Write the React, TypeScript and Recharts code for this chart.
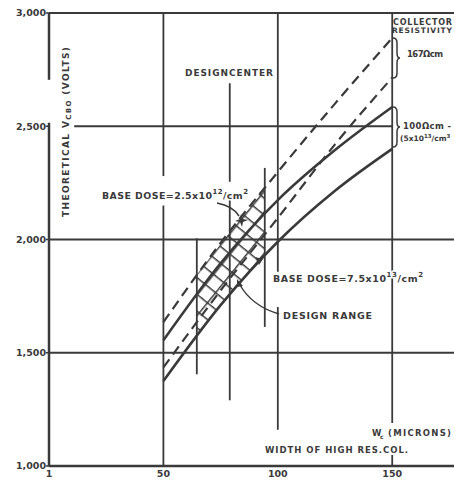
import React from 'react';
import { ComposedChart, Line, Area, XAxis, YAxis, ReferenceLine } from 'recharts';

// Width of high-resistivity collector (microns)
const widthsMicrons = [50, 75, 100, 125, 150];
// Theoretical VCBO (volts)
const upperDashed167 = [1635, 1985, 2298, 2600, 2890];
const lowerDashed167 = [1435, 1775, 2095, 2420, 2715];
const upperSolid100 = [1555, 1895, 2174, 2395, 2585];
const lowerSolid100 = [1375, 1710, 1990, 2215, 2400];

// Hatched design range
const designRangeX = [64.6, 80, 94.3];
const designRangeLow = [1580, 1770, 1925];
const designRangeHigh = [1845, 2045, 2235];

const xTicks = [0, 50, 100, 150];
const xTickLabels = ['1', '50', '100', '150'];
const yTicks = [1000, 1500, 2000, 2500, 3000];
const yTickLabels = ['1,000', '1,500', '2,000', '2,500', '3,000'];

const curveData = widthsMicrons.map((x, i) => ({
  x,
  upperDashed: upperDashed167[i],
  lowerDashed: lowerDashed167[i],
  upperSolid: upperSolid100[i],
  lowerSolid: lowerSolid100[i],
}));

const hatchData = designRangeX.map((x, i) => ({
  x,
  range: [designRangeLow[i], designRangeHigh[i]],
}));

const ink = '#3a3a3a';
const font = '"DejaVu Sans", Verdana, sans-serif';
const tickStyle = { fontSize: 9.5, fontWeight: 700, fill: ink, fontFamily: font };
const grid = { stroke: ink, strokeWidth: 1.8 };
const halo = { stroke: '#fff', strokeWidth: 3, paintOrder: 'stroke' as const, strokeLinejoin: 'round' as const };
const txt = { fill: ink, fontFamily: font, fontWeight: 700 };

export default function App() {
  return (
    <div style={{ position: 'absolute', left: 0, top: 0, width: 454, height: 480, background: '#fff', overflow: 'hidden' }}>
      <svg width={0} height={0} style={{ position: 'absolute' }}>
        <defs>
          <pattern id="hatchGrid" patternUnits="userSpaceOnUse" width="13" height="13" patternTransform="rotate(39)">
            <path d="M0,0.75 H13 M0.75,0 V13" stroke={ink} strokeWidth={1.5} fill="none" />
          </pattern>
        </defs>
      </svg>
      <ComposedChart width={454} height={480} data={curveData} margin={{ top: 13, right: 0, bottom: 0, left: 0 }}>
        <XAxis
          type="number"
          dataKey="x"
          domain={[0, 177]}
          ticks={xTicks}
          interval={0}
          allowDataOverflow
          tickFormatter={(v: number) => xTickLabels[xTicks.indexOf(v)]}
          height={14}
          tickLine={false}
          tickSize={0}
          tickMargin={4}
          axisLine={{ stroke: ink, strokeWidth: 2.5 }}
          tick={tickStyle}
        />
        <YAxis
          type="number"
          domain={[1000, 3000]}
          ticks={yTicks}
          interval={0}
          allowDataOverflow
          tickFormatter={(v: number) => yTickLabels[yTicks.indexOf(v)]}
          width={49}
          axisLine={false}
          tickSize={3}
          tickMargin={0}
          tickLine={{ stroke: ink, strokeWidth: 1.5 }}
          tick={tickStyle}
        />

        {/* frame */}
        <ReferenceLine segment={[{ x: 0, y: 3000 }, { x: 177, y: 3000 }]} stroke={ink} strokeWidth={2.2} />
        <ReferenceLine segment={[{ x: 0, y: 3000 }, { x: 0, y: 2705 }]} stroke={ink} strokeWidth={2.5} />
        <ReferenceLine segment={[{ x: 0, y: 2515 }, { x: 0, y: 1000 }]} stroke={ink} strokeWidth={2.5} />

        {/* horizontal grid */}
        <ReferenceLine segment={[{ x: 0, y: 1500 }, { x: 177, y: 1500 }]} {...grid} />
        <ReferenceLine segment={[{ x: 0, y: 2000 }, { x: 177, y: 2000 }]} {...grid} />
        <ReferenceLine segment={[{ x: 11, y: 2500 }, { x: 150, y: 2500 }]} {...grid} />

        {/* vertical grid */}
        <ReferenceLine segment={[{ x: 50, y: 3000 }, { x: 50, y: 2280 }]} {...grid} />
        <ReferenceLine segment={[{ x: 50, y: 2150 }, { x: 50, y: 1000 }]} {...grid} />
        <ReferenceLine segment={[{ x: 100, y: 3000 }, { x: 100, y: 1858 }]} {...grid} />
        <ReferenceLine segment={[{ x: 100, y: 1702 }, { x: 100, y: 1160 }]} {...grid} />
        <ReferenceLine segment={[{ x: 150, y: 3000 }, { x: 150, y: 1190 }]} {...grid} />
        <ReferenceLine segment={[{ x: 150, y: 1049 }, { x: 150, y: 1000 }]} {...grid} />

        {/* partial design lines */}
        <ReferenceLine segment={[{ x: 64.6, y: 2005 }, { x: 64.6, y: 1405 }]} {...grid} />
        <ReferenceLine segment={[{ x: 79, y: 2690 }, { x: 79, y: 2255 }]} {...grid} />
        <ReferenceLine segment={[{ x: 79, y: 2188 }, { x: 79, y: 1290 }]} {...grid} />
        <ReferenceLine segment={[{ x: 94.3, y: 2316 }, { x: 94.3, y: 1614 }]} {...grid} />

        <Area
          data={hatchData}
          dataKey="range"
          type="monotone"
          fill="url(#hatchGrid)"
          fillOpacity={1}
          stroke="none"
          isAnimationActive={false}
          dot={false}
          activeDot={false}
        />

        <Line dataKey="upperDashed" type="monotone" stroke={ink} strokeWidth={2.2} strokeDasharray="10 6" dot={false} activeDot={false} isAnimationActive={false} />
        <Line dataKey="lowerDashed" type="monotone" stroke={ink} strokeWidth={2.2} strokeDasharray="10 6" dot={false} activeDot={false} isAnimationActive={false} />
        <Line dataKey="upperSolid" type="monotone" stroke={ink} strokeWidth={2.6} dot={false} activeDot={false} isAnimationActive={false} />
        <Line dataKey="lowerSolid" type="monotone" stroke={ink} strokeWidth={2.6} dot={false} activeDot={false} isAnimationActive={false} />
      </ComposedChart>

      <svg width={454} height={480} style={{ position: 'absolute', left: 0, top: 0, pointerEvents: 'none' }}>
        {/* Y axis title */}
        <text transform="translate(69,132) rotate(-90)" textAnchor="middle" fontSize={9} textLength={170} lengthAdjust="spacing" {...txt}>
          THEORETICAL V<tspan fontSize={7} dy={2}>CBO</tspan>
          <tspan fontSize={9} dy={-2}> (VOLTS)</tspan>
        </text>

        <text x={185} y={76} fontSize={9} textLength={88} lengthAdjust="spacing" {...txt} {...halo}>DESIGNCENTER</text>

        <text x={102} y={199} fontSize={9.5} textLength={146} lengthAdjust="spacing" {...txt} {...halo}>
          BASE DOSE=2.5x10<tspan fontSize={7} dy={-5}>12</tspan>
          <tspan fontSize={9.5} dy={5}>/cm</tspan>
          <tspan fontSize={7} dy={-5}>2</tspan>
        </text>
        <path d="M217,203 Q233,206 239,216" stroke={ink} strokeWidth={1.5} fill="none" />
        <path d="M241,214 L243,219 L248,220 L243,222 L242,227 L240,222 L235,221 L240,219 Z" fill={ink} />

        <text x={273} y={282} fontSize={9.5} textLength={150} lengthAdjust="spacing" {...txt} {...halo}>
          BASE DOSE=7.5x10<tspan fontSize={7} dy={-5}>13</tspan>
          <tspan fontSize={9.5} dy={5}>/cm</tspan>
          <tspan fontSize={7} dy={-5}>2</tspan>
        </text>
        <path d="M255,257 L263,259 L259,265 Z" fill={ink} />

        <text x={283} y={319} fontSize={9.5} textLength={89} lengthAdjust="spacing" {...txt} {...halo}>DESIGN  RANGE</text>
        <path d="M279,314 Q252,306 240,285" stroke={ink} strokeWidth={1.5} fill="none" />
        <path d="M237,279 L243,286 L237,287 Z" fill={ink} />

        {/* collector resistivity notes */}
        <text x={393} y={25} fontSize={8} textLength={59} lengthAdjust="spacing" {...txt}>COLLECTOR</text>
        <text x={392} y={33} fontSize={7.5} textLength={60} lengthAdjust="spacing" {...txt}>RESISTIVITY</text>
        <path d="M393,38 Q397,38 397,43 L397,53 Q397,58 400,58 Q397,58 397,63 L397,73 Q397,78 393,78" stroke={ink} strokeWidth={1.5} fill="none" />
        <text x={407} y={57} fontSize={8.5} textLength={36} lengthAdjust="spacing" {...txt}>167Ωcm</text>
        <path d="M393,107 Q397,107 397,112 L397,122 Q397,127 400,127 Q397,127 397,132 L397,142 Q397,147 393,147" stroke={ink} strokeWidth={1.5} fill="none" />
        <text x={403} y={129} fontSize={8.5} textLength={48} lengthAdjust="spacing" {...txt}>100Ωcm -</text>
        <text x={400} y={141} fontSize={7.5} {...txt}>
          (5x10<tspan fontSize={5.5} dy={-3}>13</tspan>
          <tspan fontSize={7.5} dy={3}>/cm</tspan>
          <tspan fontSize={5.5} dy={-3}>3</tspan>
        </text>

        {/* x axis title */}
        <text x={372} y={436} fontSize={8.5} {...txt}>W</text>
        <text x={380} y={439} fontSize={6} {...txt}>c</text>
        <text x={388} y={436} fontSize={8.5} textLength={63} lengthAdjust="spacing" {...txt}>(MICRONS)</text>
        <text x={265} y={453} fontSize={8.5} textLength={143} lengthAdjust="spacing" {...txt}>WIDTH OF HIGH RES.COL.</text>
      </svg>
    </div>
  );
}
